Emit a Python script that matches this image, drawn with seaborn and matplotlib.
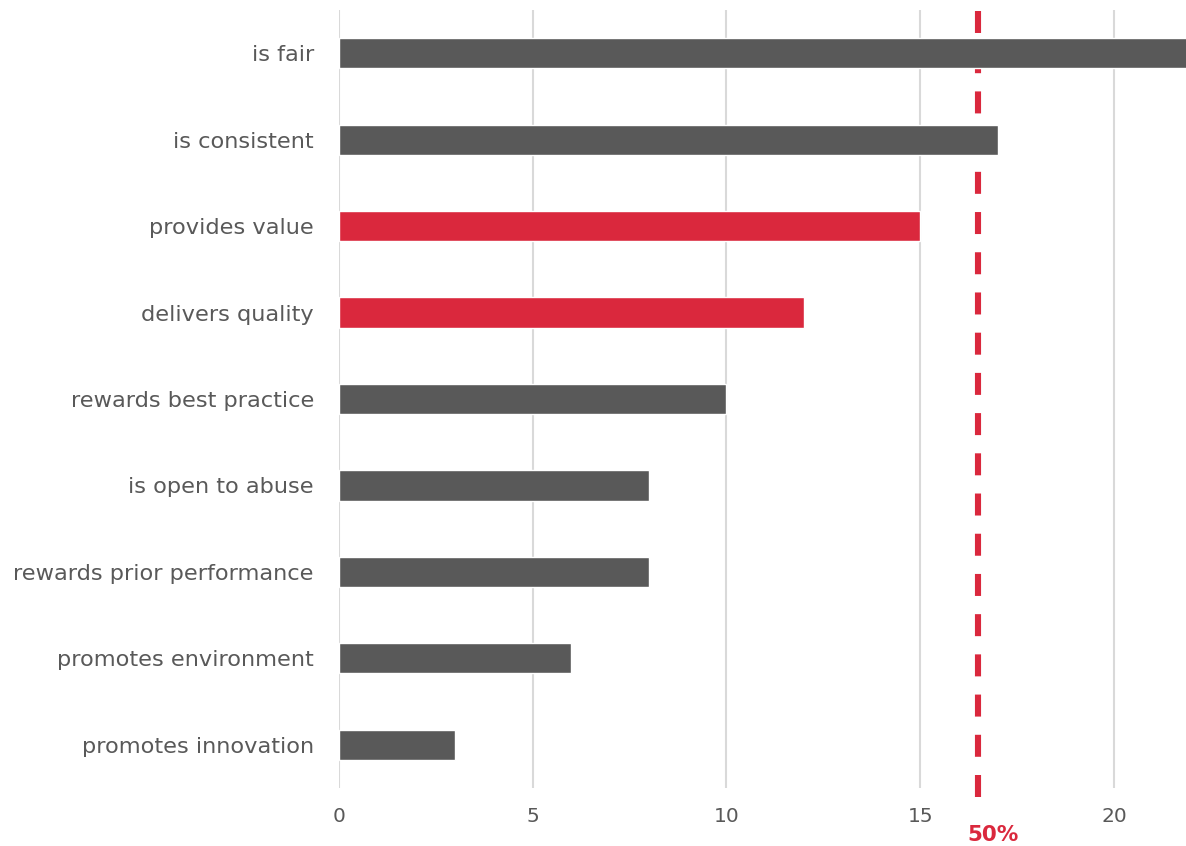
import matplotlib
matplotlib.use("Agg")
import matplotlib.pyplot as plt
import seaborn as sns
import pandas as pd

# Data
statements = ["is fair", "is consistent", "provides value", "delivers quality",
              "rewards best practice", "is open to abuse", "rewards prior performance",
              "promotes environment", "promotes innovation"]
counts = [22, 17, 15, 12, 10, 8, 8, 6, 3]
highlight = [False, False, True, True, False, False, False, False, False]
half_mark = 16.5
half_label = "50%"
x_ticks = [0, 5, 10, 15, 20]

GREY = "#595959"
RED = "#DA283D"
TEXT = "#595959"

sns.set_theme(style="white")
plt.rcParams["font.family"] = ["DejaVu Sans"]

df = pd.DataFrame({"statement": statements, "count": counts,
                   "group": ["hi" if h else "base" for h in highlight]})

fig = plt.figure(figsize=(11.86, 8.46), dpi=100)
ax = fig.add_axes([0.2858, 0.0686, 0.7142, 0.9196])

# 50% reference line, runs a little past the bottom of the plot area
ax.axvline(half_mark, ymin=-0.0116, ymax=0.999, color=RED, lw=4.4,
           dashes=(3.6, 2.98), zorder=1, clip_on=False)

sns.barplot(data=df, y="statement", x="count", hue="group",
            palette={"base": GREY, "hi": RED}, order=statements,
            dodge=False, width=0.35, legend=False, ax=ax, zorder=3,
            saturation=1)

ax.set_xlim(0, 21.86)
ax.set_ylim(8.5, -0.5)
ax.set_xticks(x_ticks)
ax.set_xticklabels([str(t) for t in x_ticks])
ax.grid(axis="x", color="#D9D9D9", lw=1.5, zorder=0)
ax.set_axisbelow(True)
for s in ax.spines.values():
    s.set_visible(False)
ax.set_xlabel("")
ax.set_ylabel("")
ax.tick_params(axis="y", length=0, pad=18, labelsize=16.2, labelcolor=TEXT)
ax.tick_params(axis="x", length=0, pad=14, labelsize=14.5, labelcolor=TEXT)

ax.text(half_mark + 0.38, -0.060, half_label, transform=ax.get_xaxis_transform(),
        ha="center", va="center", color=RED, fontsize=15.5, fontweight="bold",
        family=["DejaVu Sans"])

fig.savefig("out.png", dpi=100)
